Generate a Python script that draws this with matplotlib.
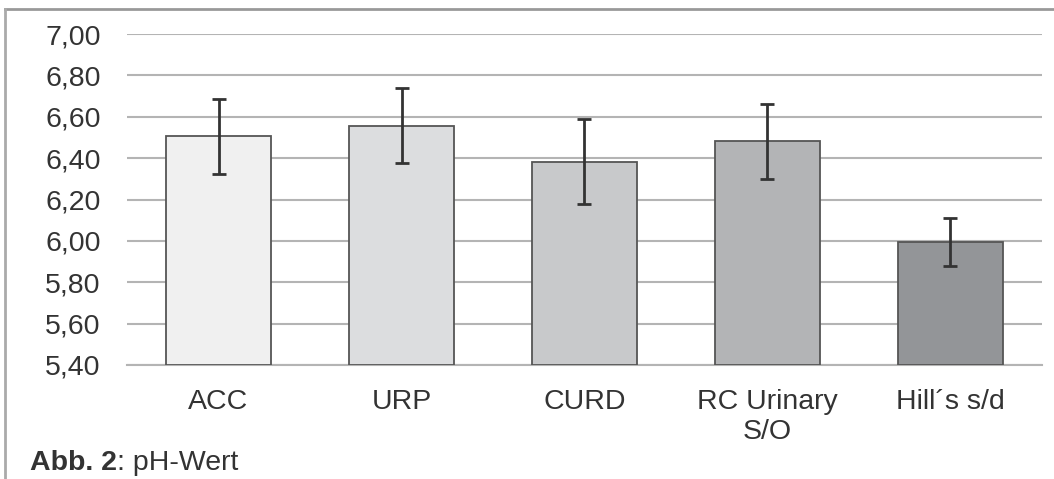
import matplotlib.pyplot as plt
from matplotlib.lines import Line2D

# data
categories = ["ACC", "URP", "CURD", "RC Urinary\nS/O", "Hill\u00b4s s/d"]
ph_mean = [6.505, 6.557, 6.382, 6.481, 5.994]
ph_sd = [0.183, 0.181, 0.205, 0.180, 0.115]
bar_colors = ["#f0f0f0", "#dcdddf", "#c8c9cb", "#b3b4b6", "#939598"]
yticks = [5.40, 5.60, 5.80, 6.00, 6.20, 6.40, 6.60, 6.80, 7.00]

plt.rcParams["font.family"] = ["Liberation Sans", "DejaVu Sans"]
text_col = "#333333"

fig = plt.figure(figsize=(10.54, 4.79), dpi=100)
ax = fig.add_axes([0.1205, 0.238, 0.8681, 0.691])

x = range(len(categories))
ax.bar(x, [m - 5.40 for m in ph_mean], bottom=5.40, width=0.575,
       color=bar_colors, edgecolor="#555555", linewidth=1.3, zorder=3)
ax.errorbar(x, ph_mean, yerr=ph_sd, fmt="none", ecolor="#333333",
            elinewidth=2, capsize=5, capthick=2, zorder=4)

ax.set_xlim(-0.5, len(categories) - 0.5)
ax.set_ylim(5.40, 7.00)
ax.set_yticks(yticks)
ax.set_yticklabels([f"{v:.2f}".replace(".", ",") for v in yticks])
ax.set_xticks(list(x))
ax.set_xticklabels(categories)
ax.tick_params(axis="y", length=0, pad=19, labelsize=20.5, labelcolor=text_col)
ax.tick_params(axis="x", length=0, pad=17, labelsize=20.5, labelcolor=text_col)
ax.yaxis.grid(True, color="#b4b4b4", linewidth=1.5, zorder=0)
ax.set_axisbelow(True)
for side in ["top", "right", "left"]:
    ax.spines[side].set_visible(False)
ax.spines["bottom"].set_color("#b4b4b4")
ax.spines["bottom"].set_linewidth(1.5)

# caption with bold part
cap = fig.text(30 / 1054, 1 - 470 / 479, "Abb. 2", fontsize=20.5,
               fontweight="bold", color=text_col, va="baseline")
fig.canvas.draw()
bb = cap.get_window_extent()
fig.text(bb.x1 / 1054, 1 - 470 / 479, ": pH-Wert", fontsize=20.5,
         color=text_col, va="baseline")

# frame around the figure (top and left edges)
fig.add_artist(Line2D([5 / 1054, 1], [1 - 9 / 479, 1 - 9 / 479],
                      transform=fig.transFigure, color="#999999", linewidth=2))
fig.add_artist(Line2D([5 / 1054, 5 / 1054], [0, 1 - 9 / 479],
                      transform=fig.transFigure, color="#aaaaaa", linewidth=2))

fig.savefig("out.png", dpi=100)
